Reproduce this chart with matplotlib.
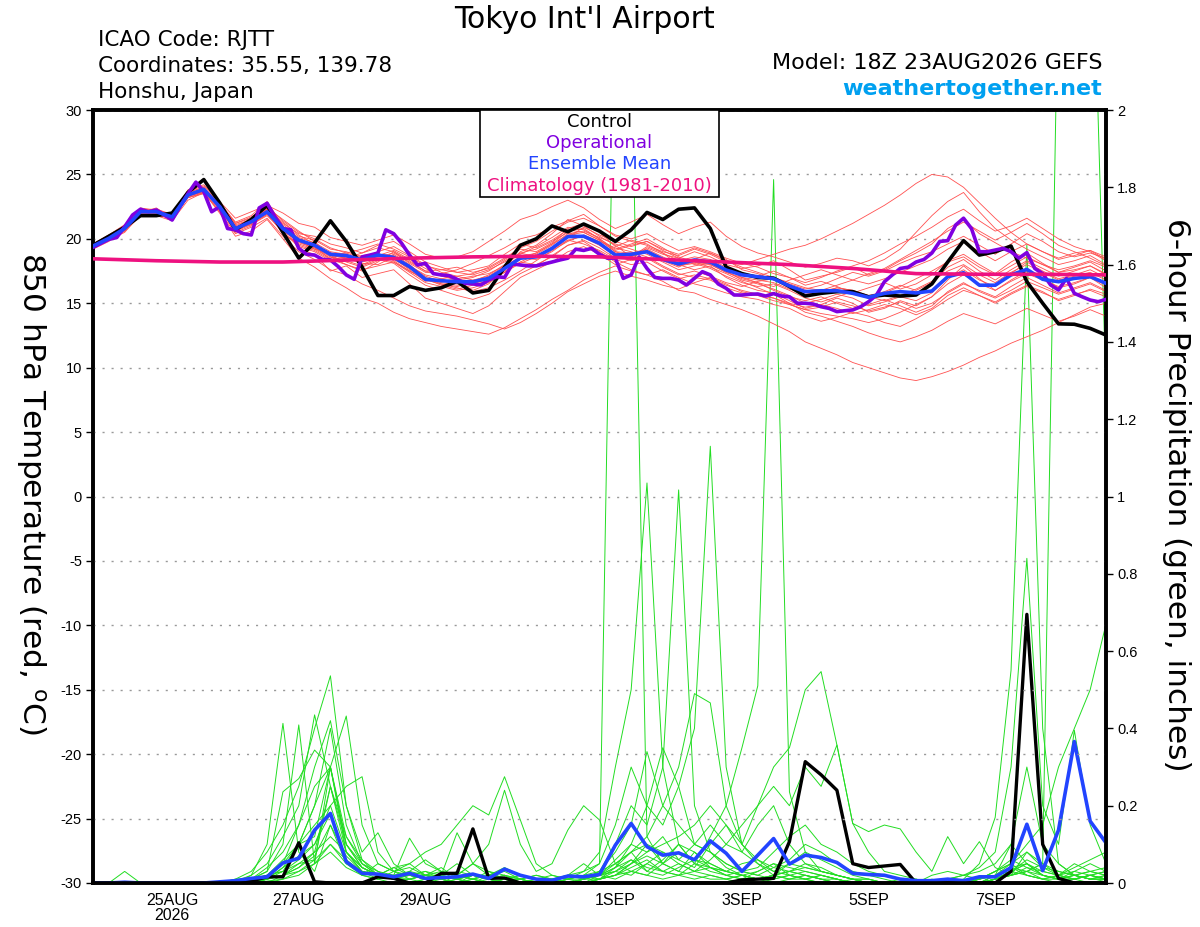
import matplotlib
matplotlib.use('Agg')
import matplotlib.pyplot as plt
from matplotlib.patches import Rectangle
import numpy as np
from datetime import datetime

plt.rcParams['font.family'] = ['Liberation Sans', 'DejaVu Sans']
plt.rcParams['axes.unicode_minus'] = False

# run start, 6-hourly steps (operational is 3-hourly)
start = datetime(2026, 8, 23, 18)
tick_dates = [datetime(2026, 8, 25), datetime(2026, 8, 27), datetime(2026, 8, 29),
              datetime(2026, 9, 1), datetime(2026, 9, 3), datetime(2026, 9, 5),
              datetime(2026, 9, 7)]
tick_labels = ['25AUG\n2026', '27AUG', '29AUG', '1SEP', '3SEP', '5SEP', '7SEP']

temp_ticks = list(range(-30, 31, 5))
precip_ticks = [0, 0.2, 0.4, 0.6, 0.8, 1.0, 1.2, 1.4, 1.6, 1.8, 2.0]
precip_labels = ['0', '0.2', '0.4', '0.6', '0.8', '1', '1.2', '1.4', '1.6', '1.8', '2']

# 850 hPa temperature, control (6h)
control_t = [19.5, 20.2, 20.9, 21.8, 21.8, 22.0, 23.6, 24.6, 22.8, 20.7,
             21.5, 22.6, 20.5, 18.5, 19.7, 21.4, 19.8, 17.8, 15.6, 15.6,
             16.3, 16.0, 16.2, 16.7, 15.8, 16.0, 17.8, 19.5, 20.0, 21.0,
             20.55, 21.15, 20.6, 19.8, 20.7, 22.05, 21.5, 22.3, 22.4, 20.8,
             17.8, 17.3, 17.0, 16.95, 16.3, 15.56, 15.77, 15.9, 15.9, 15.5,
             15.64, 15.56, 15.64, 16.5, 18.2, 19.86, 18.74, 19.0, 19.44, 16.67,
             15.0, 13.4, 13.37, 13.05, 12.53]

# ensemble mean (6h)
mean_t = [19.44, 20.04, 20.8, 22.1, 22.1, 21.7, 23.4, 23.84, 22.5, 20.8,
          21.33, 22.1, 20.8, 19.9, 19.5, 18.8, 18.7, 18.36, 18.74, 18.56,
          17.84, 16.86, 16.75, 16.67, 16.67, 16.93, 17.7, 18.5, 18.6, 19.26,
          20.17, 20.2, 19.65, 18.74, 18.8, 19.0, 18.4, 18.05, 18.36, 18.2,
          17.58, 17.2, 17.06, 16.9, 16.34, 15.9, 15.97, 15.97, 15.77, 15.46,
          15.77, 15.9, 15.8, 15.95, 17.06, 17.37, 16.4, 16.4, 17.2, 17.63,
          16.86, 16.67, 16.93, 17.06, 16.55]

# operational (3h)
oper_t = [19.34, 19.65, 19.96, 20.1, 20.94, 21.85, 22.3, 22.1, 22.24, 21.85,
          21.46, 22.5, 23.5, 24.4, 23.66, 22.1, 22.5, 20.8, 20.7, 20.4,
          20.3, 22.4, 22.76, 21.7, 20.8, 20.7, 19.26, 18.8, 18.74, 18.4,
          18.36, 17.84, 17.2, 16.86, 18.6, 18.74, 18.9, 20.7, 20.4, 19.65,
          18.74, 17.97, 18.1, 17.3, 17.2, 17.14, 16.86, 16.55, 16.5, 16.42,
          16.8, 17.06, 17.0, 18.05, 17.97, 17.9, 17.9, 18.05, 18.2, 18.36,
          18.5, 19.2, 19.1, 19.26, 18.8, 18.5, 18.5, 16.93, 17.2, 18.6,
          17.7, 17.0, 16.93, 16.93, 16.8, 16.42, 16.93, 17.45, 17.2, 16.5,
          16.16, 15.64, 15.64, 15.7, 15.72, 15.56, 15.75, 15.56, 15.5, 15.0,
          15.0, 14.94, 14.73, 14.6, 14.35, 14.42, 14.48, 14.73, 15.12, 15.64,
          16.67, 17.2, 17.7, 17.8, 18.2, 18.4, 18.9, 19.8, 19.86, 21.07,
          21.6, 20.8, 19.0, 19.0, 19.13, 19.26, 19.0, 18.5, 18.93, 17.7,
          17.3, 16.42, 16.03, 16.93, 15.77, 15.5, 15.25, 15.12, 15.3]

# climatology (daily)
clim_t = [18.45, 18.3, 18.2, 18.2, 18.35, 18.5, 18.6, 18.65, 18.6,
          18.4, 18.2, 18.0, 17.7, 17.3, 17.25, 17.25, 17.2]

# ensemble members, 850 hPa temperature (6h)
member_t = [
    [19.6, 20.3, 21.0, 22.3, 22.0, 21.9, 23.6, 24.0, 22.3, 20.5, 21.0, 22.4, 21.5, 20.6, 19.8, 18.6, 18.0, 17.5, 18.2, 19.0,
     18.3, 17.5, 17.2, 16.8, 16.0, 16.5, 17.8, 19.0, 19.5, 20.4, 21.5, 21.0, 20.2, 19.5, 18.6, 19.4, 18.9, 18.0, 17.6, 17.9,
     17.0, 16.4, 16.0, 15.8, 15.2, 14.6, 14.9, 15.4, 15.0, 14.3, 14.6, 15.2, 14.8, 15.5, 16.8, 17.9, 16.9, 16.0, 16.8, 17.5,
     17.0, 16.2, 16.5, 17.0, 16.2],
    [19.2, 19.8, 20.6, 21.8, 22.3, 21.5, 23.2, 23.5, 22.8, 21.3, 21.8, 22.9, 21.0, 19.2, 18.8, 17.5, 17.9, 17.0, 17.3, 17.6,
     16.5, 15.4, 15.0, 14.6, 14.2, 14.8, 15.9, 17.0, 17.6, 18.2, 19.0, 19.4, 18.8, 18.0, 18.4, 19.3, 18.8, 18.5, 19.0, 18.6,
     18.0, 17.7, 17.9, 18.3, 17.6, 16.8, 17.1, 17.4, 17.8, 17.2, 17.6, 18.3, 18.9, 19.6, 20.8, 21.5, 20.4, 19.7, 19.0, 18.5,
     18.0, 17.6, 17.9, 18.3, 17.8],
    [19.3, 19.9, 20.5, 21.9, 21.8, 21.4, 23.0, 23.6, 22.0, 20.2, 20.6, 21.5, 20.0, 18.5, 17.8, 16.9, 16.2, 15.4, 15.0, 14.3,
     13.8, 13.5, 13.2, 13.0, 12.8, 12.6, 13.1, 13.8, 14.5, 15.3, 16.0, 16.8, 17.4, 17.9, 17.5, 17.2, 17.6, 17.0, 16.5, 16.2,
     15.8, 15.5, 15.3, 14.9, 14.6, 14.0, 13.6, 13.9, 14.3, 14.0, 13.5, 13.2, 13.8, 14.5, 15.3, 16.0, 15.6, 15.1, 15.8, 16.4,
     15.9, 15.2, 15.6, 16.1, 15.7],
    [19.5, 20.2, 21.0, 22.4, 22.2, 21.8, 23.8, 24.2, 22.9, 21.6, 22.1, 22.6, 22.0, 21.2, 20.9, 20.1, 19.8, 19.5, 19.9, 20.3,
     19.6, 18.8, 18.5, 18.6, 19.0, 19.8, 20.6, 21.5, 21.9, 22.5, 23.0, 22.4, 21.5, 20.8, 21.3, 21.9, 21.1, 20.4, 20.9, 21.3,
     20.2, 19.4, 18.9, 18.6, 18.2, 17.8, 18.1, 18.5, 18.3, 17.9, 18.4, 19.2, 20.5, 21.8, 22.9, 23.6, 22.1, 20.8, 19.9, 19.2,
     18.6, 18.0, 18.3, 18.7, 18.0],
    [19.4, 20.1, 20.9, 22.0, 22.0, 21.6, 23.3, 23.7, 22.6, 21.0, 21.5, 22.0, 20.4, 19.6, 19.2, 18.9, 18.5, 18.9, 19.3, 19.0,
     18.1, 17.4, 17.3, 17.6, 18.1, 18.7, 19.3, 20.0, 20.3, 20.9, 21.4, 21.9, 21.0, 20.2, 19.8, 19.5, 19.0, 18.7, 19.2, 18.8,
     18.2, 18.0, 18.4, 18.8, 19.2, 19.5, 20.0, 20.6, 21.2, 21.9, 22.6, 23.4, 24.3, 25.0, 24.8, 24.0, 22.8, 21.6, 20.5, 19.6,
     19.0, 18.5, 18.9, 19.1, 18.4],
    [19.5, 20.0, 20.7, 22.2, 22.1, 21.7, 23.5, 23.9, 22.4, 20.6, 21.1, 21.8, 20.6, 19.8, 19.4, 18.4, 18.6, 18.0, 18.5, 18.2,
     17.4, 16.6, 16.3, 16.0, 16.2, 16.6, 17.4, 18.2, 18.0, 18.6, 19.5, 19.8, 19.0, 18.2, 17.6, 17.2, 16.7, 16.0, 15.8, 15.3,
     14.9, 14.5, 14.0, 13.4, 12.8, 12.0, 11.5, 11.0, 10.4, 10.0, 9.6, 9.2, 9.0, 9.3, 9.7, 10.2, 10.8, 11.3, 11.9, 12.4,
     12.9, 13.5, 14.1, 14.7, 15.0],
    [19.3, 20.0, 20.8, 22.0, 22.4, 21.6, 23.4, 23.6, 22.2, 20.9, 21.2, 22.3, 20.9, 20.1, 19.7, 19.0, 18.8, 18.3, 18.8, 18.5,
     17.6, 16.7, 16.9, 17.1, 16.8, 17.1, 17.9, 18.6, 18.9, 19.6, 20.6, 20.8, 20.0, 19.2, 19.6, 20.0, 19.3, 18.6, 18.2, 17.8,
     17.3, 16.7, 16.2, 15.7, 15.0, 14.3, 14.0, 13.6, 13.2, 12.7, 12.3, 12.0, 12.4, 12.9, 13.6, 14.2, 13.8, 13.4, 14.0, 14.6,
     14.1, 13.6, 14.0, 14.5, 14.0],
    [19.6, 20.1, 20.9, 22.1, 22.0, 21.8, 23.5, 23.9, 22.7, 21.2, 21.6, 22.2, 21.2, 20.4, 20.2, 19.6, 19.3, 18.9, 19.5, 19.8,
     19.0, 18.2, 17.8, 17.4, 17.6, 17.9, 18.8, 19.6, 19.3, 19.9, 20.7, 20.5, 19.9, 19.0, 18.6, 19.1, 18.3, 17.8, 18.4, 18.9,
     18.4, 17.6, 17.3, 16.8, 16.5, 16.1, 16.4, 16.9, 17.4, 17.1, 17.5, 18.1, 18.6, 19.0, 19.6, 20.2, 19.5, 18.8, 19.6, 20.4,
     19.8, 19.0, 18.6, 18.9, 18.5],
    [19.4, 20.0, 20.7, 22.1, 22.2, 21.7, 23.4, 23.8, 22.5, 20.7, 21.4, 22.0, 20.5, 19.4, 19.0, 18.3, 18.5, 18.7, 18.9, 18.3,
     17.5, 16.8, 16.5, 16.3, 16.6, 16.9, 17.5, 18.2, 18.8, 19.5, 20.4, 20.6, 20.1, 19.6, 19.2, 18.8, 18.2, 17.6, 17.9, 18.1,
     17.5, 16.8, 16.5, 16.1, 15.6, 15.0, 15.3, 15.7, 15.4, 14.8, 15.1, 15.5, 15.2, 15.8, 17.0, 17.6, 16.8, 16.3, 17.3, 18.2,
     17.5, 16.9, 17.2, 17.6, 17.0],
    [19.5, 20.1, 20.8, 22.0, 22.1, 21.8, 23.3, 23.7, 22.4, 20.8, 21.3, 22.1, 20.7, 19.7, 19.3, 18.7, 18.2, 17.8, 18.3, 18.8,
     18.0, 17.0, 16.5, 16.2, 15.9, 16.2, 16.8, 17.5, 18.3, 19.1, 19.8, 20.3, 19.8, 19.3, 19.0, 18.6, 17.9, 17.3, 17.0, 16.8,
     16.2, 15.8, 15.6, 15.4, 14.9, 14.5, 14.2, 14.0, 13.8, 13.5, 13.8, 14.3, 14.9, 15.5, 16.5, 17.2, 16.5, 16.0, 16.7, 17.3,
     16.8, 16.3, 16.6, 17.0, 16.4],
    [19.4, 19.9, 20.6, 21.8, 22.0, 21.6, 23.2, 23.6, 22.1, 20.4, 20.9, 21.6, 20.2, 19.0, 18.4, 17.6, 17.2, 16.5, 16.0, 15.4,
     14.8, 14.4, 14.2, 14.0, 13.7, 13.4, 13.0, 13.5, 14.2, 15.0, 15.9, 16.5, 17.1, 17.5, 17.1, 16.8, 16.4, 16.1, 16.6, 17.0,
     16.5, 15.9, 15.6, 15.2, 14.9, 14.5, 14.7, 15.1, 14.8, 14.4, 14.7, 15.1, 14.6, 15.0, 15.8, 16.5, 16.0, 15.5, 16.3, 17.0,
     16.4, 15.8, 16.2, 16.6, 16.0],
    [19.5, 20.2, 20.9, 22.3, 22.3, 21.9, 23.6, 24.0, 22.6, 20.9, 21.4, 22.3, 21.3, 20.3, 19.6, 18.8, 18.9, 19.2, 19.6, 19.2,
     18.6, 17.9, 17.6, 17.8, 17.4, 17.7, 18.4, 19.2, 19.0, 19.7, 20.8, 21.2, 20.5, 19.4, 19.9, 19.6, 18.9, 18.3, 18.6, 18.4,
     17.8, 17.3, 17.1, 17.5, 17.0, 16.4, 16.7, 16.3, 15.8, 16.2, 16.6, 16.1, 16.5, 17.2, 18.3, 18.8, 18.0, 17.3, 18.2, 18.9,
     18.1, 17.4, 17.8, 18.2, 17.5],
    [19.3, 20.0, 20.8, 22.0, 21.9, 21.5, 23.3, 23.7, 22.4, 20.6, 21.2, 21.9, 20.8, 20.0, 19.5, 18.9, 18.6, 18.1, 18.0, 18.6,
     17.9, 17.2, 16.9, 16.5, 16.7, 17.2, 18.0, 18.9, 19.2, 19.8, 20.5, 20.1, 19.5, 18.7, 18.3, 18.5, 17.8, 17.2, 17.5, 17.1,
     16.6, 16.3, 16.7, 16.9, 16.2, 15.6, 15.8, 16.2, 16.0, 15.6, 15.9, 16.4, 16.0, 16.6, 17.8, 18.4, 17.5, 16.8, 17.6, 18.3,
     17.7, 17.1, 17.5, 17.9, 17.2],
    [19.6, 20.3, 21.1, 22.2, 22.1, 21.7, 23.5, 23.9, 22.7, 21.1, 21.5, 22.4, 21.1, 20.2, 19.9, 19.2, 19.0, 18.6, 18.7, 19.1,
     18.4, 17.7, 17.1, 16.8, 17.0, 17.5, 18.3, 18.9, 18.6, 19.3, 20.1, 20.9, 20.3, 19.8, 19.4, 19.8, 19.1, 18.5, 18.0, 18.3,
     17.7, 17.0, 16.6, 16.3, 16.8, 17.2, 17.6, 17.2, 16.8, 17.3, 17.7, 18.4, 19.1, 19.8, 20.6, 21.3, 20.6, 19.9, 20.5, 21.2,
     20.4, 19.5, 19.0, 18.5, 17.9],
    [19.4, 20.1, 20.8, 22.1, 22.0, 21.8, 23.4, 23.8, 22.5, 20.8, 21.3, 22.1, 20.9, 19.9, 19.3, 18.6, 18.3, 17.9, 18.4, 18.1,
     17.2, 16.4, 16.0, 15.6, 15.3, 15.7, 16.5, 17.3, 17.9, 18.7, 19.5, 19.9, 19.3, 18.5, 18.9, 19.2, 18.6, 18.0, 18.3, 18.0,
     17.4, 16.9, 16.6, 16.0, 15.5, 15.2, 15.5, 15.0, 14.6, 14.9, 15.3, 14.8, 14.3, 14.8, 15.9, 16.6, 15.9, 15.4, 16.0, 16.7,
     16.2, 15.7, 16.1, 16.5, 15.9],
    [19.5, 20.0, 20.7, 22.0, 22.2, 21.6, 23.4, 23.8, 22.3, 20.7, 21.2, 22.0, 20.6, 19.8, 19.2, 18.5, 18.8, 18.4, 18.6, 18.9,
     18.2, 17.5, 17.6, 17.4, 17.2, 17.6, 18.2, 18.8, 19.4, 20.1, 20.9, 20.7, 20.0, 19.1, 19.5, 19.8, 19.2, 18.8, 19.3, 18.9,
     18.3, 17.8, 17.4, 17.0, 16.6, 16.2, 16.0, 16.4, 16.8, 16.5, 16.9, 17.4, 17.9, 18.4, 19.2, 19.8, 19.0, 18.3, 19.0, 19.6,
     19.0, 18.4, 18.7, 19.1, 18.6],
    [19.4, 20.0, 20.8, 22.2, 22.1, 21.7, 23.5, 23.8, 22.6, 20.9, 21.4, 22.2, 20.9, 19.9, 19.5, 18.9, 18.7, 18.4, 18.8, 18.7,
     17.9, 17.1, 16.7, 16.9, 17.1, 17.3, 17.9, 18.5, 18.4, 19.0, 19.9, 20.2, 19.6, 18.9, 18.7, 19.0, 18.4, 17.9, 18.1, 17.7,
     17.1, 16.6, 16.3, 16.5, 16.0, 15.4, 15.1, 15.5, 15.9, 15.5, 15.2, 15.6, 16.1, 16.7, 17.5, 18.0, 17.2, 16.6, 17.4, 18.0,
     17.4, 16.8, 17.1, 17.4, 16.8],
    [19.3, 19.9, 20.7, 21.9, 22.0, 21.6, 23.2, 23.6, 22.4, 20.8, 21.1, 21.9, 20.5, 19.5, 19.1, 18.4, 18.0, 17.6, 17.9, 18.2,
     17.5, 16.9, 16.4, 16.1, 16.4, 16.8, 17.4, 18.1, 18.6, 19.2, 19.9, 19.6, 19.1, 18.4, 18.0, 18.2, 17.5, 16.9, 17.2, 16.9,
     16.4, 16.0, 15.7, 15.4, 15.0, 14.7, 14.9, 14.6, 14.2, 14.5, 14.9, 14.6, 14.1, 14.6, 15.6, 16.2, 15.6, 15.0, 15.7, 16.3,
     15.8, 15.3, 15.7, 16.0, 15.5],
    [19.6, 20.2, 21.0, 22.3, 22.2, 21.9, 23.7, 24.1, 22.8, 21.2, 21.7, 22.5, 21.4, 20.5, 20.0, 19.3, 18.9, 18.5, 19.0, 19.4,
     18.7, 18.0, 17.4, 17.1, 17.3, 17.8, 18.5, 19.3, 19.8, 20.6, 21.3, 21.6, 21.0, 20.3, 20.0, 20.4, 19.7, 19.1, 19.4, 19.0,
     18.5, 18.1, 17.8, 17.3, 17.0, 16.6, 17.0, 17.5, 17.9, 18.3, 18.9, 19.6, 20.2, 20.9, 21.7, 22.3, 21.4, 20.6, 21.0, 21.6,
     20.8, 20.0, 19.4, 19.0, 18.3],
    [19.4, 20.0, 20.9, 22.0, 22.1, 21.7, 23.4, 23.8, 22.5, 20.8, 21.3, 22.1, 20.8, 19.8, 19.4, 18.7, 18.5, 18.2, 18.5, 18.4,
     17.7, 16.9, 16.6, 16.4, 16.5, 16.9, 17.7, 18.4, 18.9, 19.6, 20.3, 20.5, 19.9, 19.0, 18.9, 19.1, 18.5, 17.9, 18.2, 18.0,
     17.4, 17.0, 16.8, 16.6, 16.1, 15.7, 15.9, 16.2, 16.0, 15.5, 15.8, 16.3, 16.9, 17.5, 18.2, 18.6, 17.8, 17.2, 17.9, 18.6,
     18.0, 17.4, 17.6, 17.9, 17.3],
]

# 6-hour precipitation (inches)
control_p = [0, 0, 0, 0, 0, 0, 0, 0, 0, 0,
             0.005, 0.016, 0.016, 0.104, 0.003, 0, 0, 0, 0.016, 0.012,
             0, 0, 0.025, 0.025, 0.14, 0.012, 0.013, 0, 0, 0,
             0, 0, 0, 0, 0, 0, 0, 0, 0, 0,
             0, 0.008, 0.01, 0.012, 0.107, 0.314, 0.28, 0.24, 0.05, 0.04,
             0.044, 0.048, 0, 0, 0, 0, 0, 0, 0.03, 0.695,
             0.10, 0.012, 0, 0, 0]

mean_p = [0, 0, 0.002, 0, 0, 0, 0, 0, 0.003, 0.006,
          0.012, 0.016, 0.052, 0.064, 0.137, 0.18, 0.055, 0.025, 0.023, 0.016,
          0.025, 0.012, 0.014, 0.016, 0.023, 0.012, 0.036, 0.02, 0.01, 0.007,
          0.018, 0.016, 0.022, 0.098, 0.154, 0.094, 0.072, 0.078, 0.06, 0.109,
          0.077, 0.03, 0.072, 0.115, 0.049, 0.072, 0.066, 0.053, 0.025, 0.022,
          0.02, 0.01, 0.006, 0.006, 0.01, 0.006, 0.016, 0.016, 0.04, 0.152,
          0.032, 0.137, 0.366, 0.16, 0.104]

member_p = [
    [0, 0, 0, 0, 0, 0, 0, 0, 0, 0.01, 0.03, 0.08, 0.15, 0.25, 0.40, 0.536, 0.20, 0.06, 0.02, 0.01,
     0.02, 0.01, 0, 0.02, 0.05, 0.03, 0.01, 0, 0, 0, 0.01, 0.02, 0.05, 2.4, 2.2, 0.12, 0.05, 0.03, 0.08, 0.04,
     0.02, 0.01, 0.03, 0.05, 0.02, 0.01, 0, 0, 0.01, 0, 0, 0, 0, 0, 0, 0, 0.01, 0.03, 0.05, 0.02,
     0.01, 0, 0.01, 0.02, 0.01],
    [0, 0, 0, 0, 0, 0, 0, 0, 0, 0, 0.02, 0.10, 0.413, 0.08, 0.03, 0.15, 0.05, 0.02, 0.01, 0.03,
     0.05, 0.02, 0.01, 0, 0.01, 0.02, 0.01, 0, 0, 0, 0, 0.01, 0.02, 0.05, 0.08, 0.03, 0.06, 0.10, 0.05, 0.12,
     0.2, 0.35, 0.51, 1.82, 0.236, 0.08, 0.03, 0.02, 0.01, 0, 0, 0, 0, 0.01, 0, 0, 0, 0.02, 0.04, 0.05,
     0.02, 0.01, 0.02, 0.03, 0.02],
    [0, 0, 0.03, 0, 0, 0, 0, 0, 0, 0, 0.01, 0.03, 0.1, 0.409, 0.05, 0.3, 0.1, 0.04, 0.02, 0.01,
     0, 0.01, 0.02, 0.05, 0.02, 0.01, 0, 0, 0.01, 0, 0.02, 0.03, 0.08, 0.3, 0.5, 1.035, 0.3, 0.1, 0.05, 0.04,
     0.03, 0.02, 0.01, 0.02, 0.01, 0.02, 0.01, 0, 0, 0, 0, 0, 0, 0, 0, 0, 0, 0.01, 0.02, 0.08,
     0.05, 0.02, 0.01, 0, 0.01],
    [0, 0, 0, 0, 0, 0, 0, 0, 0, 0.005, 0.02, 0.05, 0.12, 0.2, 0.435, 0.25, 0.08, 0.03, 0.02, 0.01,
     0.03, 0.06, 0.03, 0.02, 0.01, 0, 0, 0.01, 0.02, 0.01, 0, 0.01, 0.03, 0.1, 0.2, 0.15, 0.3, 1.017, 0.2, 0.08,
     0.05, 0.03, 0.02, 0.01, 0.02, 0.03, 0.02, 0.01, 0, 0, 0, 0, 0, 0, 0, 0, 0, 0.01, 0.03, 0.05,
     0.02, 0.01, 0.03, 0.02, 0.01],
    [0, 0, 0, 0, 0, 0, 0, 0, 0, 0, 0, 0.01, 0.04, 0.1, 0.2, 0.3, 0.432, 0.15, 0.05, 0.03,
     0.01, 0.02, 0.04, 0.01, 0, 0.02, 0.04, 0.02, 0.01, 0, 0.01, 0.02, 0.01, 0.04, 0.1, 0.2, 0.15, 0.25, 0.4, 1.13,
     0.3, 0.1, 0.05, 0.02, 0.01, 0.01, 0.02, 0.01, 0, 0, 0, 0, 0.01, 0, 0, 0, 0, 0.02, 0.04, 0.03,
     0.01, 0.02, 0.01, 0.02, 0.03],
    [0, 0, 0, 0, 0, 0, 0, 0, 0, 0.01, 0.01, 0.02, 0.03, 0.06, 0.1, 0.2, 0.25, 0.275, 0.08, 0.03,
     0.02, 0.01, 0.01, 0.02, 0.01, 0, 0.01, 0.02, 0.01, 0, 0, 0, 0.01, 0.02, 0.05, 0.08, 0.1, 0.12, 0.15, 0.2,
     0.15, 0.1, 0.2, 0.3, 0.35, 0.50, 0.547, 0.357, 0.154, 0.08, 0.03, 0.02, 0.01, 0, 0.01, 0.02, 0.03, 0.05, 0.1, 0.3,
     0.1, 0.05, 0.02, 0.01, 0.01],
    [0, 0, 0, 0, 0, 0, 0, 0, 0, 0, 0.01, 0.02, 0.05, 0.15, 0.3, 0.42, 0.2, 0.08, 0.13, 0.05,
     0.02, 0.03, 0.01, 0, 0.02, 0.01, 0, 0, 0, 0.01, 0.02, 0.05, 0.02, 0.01, 0.03, 0.02, 0.01, 0.02, 0.03, 0.02,
     0.01, 0.02, 0.01, 0.02, 0.05, 0.08, 0.06, 0.04, 0.02, 0.01, 0, 0, 0, 0, 0, 0.01, 0.05, 0.17, 0.55, 1.65,
     0.4, 0.05, 0.02, 0.01, 0.01],
    [0, 0, 0, 0, 0, 0, 0, 0, 0, 0, 0, 0.01, 0.03, 0.1, 0.2, 0.40, 0.15, 0.05, 0.02, 0.01,
     0.01, 0, 0.02, 0.13, 0.05, 0.02, 0.01, 0, 0, 0, 0, 0.01, 0.02, 0.03, 0.02, 0.05, 0.03, 0.02, 0.01, 0.02,
     0.01, 0, 0.01, 0.02, 0.03, 0.05, 0.04, 0.02, 0.01, 0, 0, 0, 0, 0, 0.01, 0.02, 0.04, 0.08, 0.3, 0.84,
     0.2, 0.1, 0.395, 0.15, 0.05],
    [0, 0, 0, 0, 0, 0, 0, 0, 0, 0, 0, 0, 0.01, 0.02, 0.05, 0.1, 0.06, 0.03, 0.01, 0,
     0.01, 0.02, 0.01, 0, 0, 0.01, 0.02, 0.01, 0, 0, 0, 0, 0.01, 0.02, 0.04, 0.06, 0.03, 0.02, 0.05, 0.03,
     0.02, 0.01, 0, 0.01, 0.02, 0.01, 0, 0, 0, 0, 0, 0, 0, 0, 0, 0, 0, 0.01, 0.02, 0.03,
     0.05, 2.4, 2.6, 2.7, 1.27],
    [0, 0, 0, 0, 0, 0, 0, 0, 0, 0, 0.01, 0.02, 0.05, 0.1, 0.12, 0.3, 0.08, 0.03, 0.02, 0.04,
     0.05, 0.08, 0.1, 0.15, 0.2, 0.176, 0.275, 0.163, 0.05, 0.02, 0.01, 0.02, 0.03, 0.05, 0.08, 0.1, 0.05, 0.03, 0.02, 0.01,
     0.01, 0.02, 0.01, 0, 0.01, 0.02, 0.01, 0, 0, 0, 0, 0, 0, 0, 0, 0, 0.01, 0.02, 0.05, 0.1,
     0.15, 0.3, 0.4, 0.5, 0.67],
    [0, 0, 0, 0, 0, 0, 0, 0, 0, 0, 0, 0.01, 0.02, 0.04, 0.08, 0.25, 0.1, 0.05, 0.03, 0.02,
     0.116, 0.05, 0.03, 0.02, 0.05, 0.1, 0.24, 0.1, 0.03, 0.05, 0.137, 0.2, 0.163, 0.05, 0.03, 0.02, 0.05, 0.1, 0.08, 0.05,
     0.03, 0.02, 0.01, 0.02, 0.03, 0.02, 0.01, 0, 0, 0, 0, 0, 0, 0, 0, 0, 0, 0.01, 0.03, 0.05,
     0.03, 0.02, 0.01, 0.02, 0.03],
    [0, 0, 0, 0, 0, 0, 0, 0, 0, 0, 0.01, 0.03, 0.236, 0.27, 0.344, 0.3, 0.1, 0.04, 0.02, 0.01,
     0.02, 0.01, 0, 0.01, 0.02, 0.01, 0, 0, 0, 0.01, 0.02, 0.01, 0.03, 0.08, 0.15, 0.34, 0.2, 0.3, 0.49, 0.466,
     0.2, 0.1, 0.06, 0.03, 0.02, 0.01, 0.02, 0.01, 0, 0, 0, 0.01, 0, 0, 0, 0, 0.01, 0.02, 0.03, 0.02,
     0.01, 0.02, 0.05, 0.03, 0.02],
    [0, 0, 0, 0, 0, 0, 0, 0, 0, 0, 0, 0, 0.02, 0.05, 0.06, 0.25, 0.12, 0.05, 0.02, 0.01,
     0, 0.01, 0.02, 0.01, 0, 0, 0.01, 0.02, 0.01, 0, 0, 0, 0.01, 0.02, 0.05, 0.1, 0.08, 0.05, 0.03, 0.06,
     0.1, 0.15, 0.2, 0.25, 0.2, 0.3, 0.25, 0.357, 0.154, 0.133, 0.15, 0.14, 0.08, 0.03, 0.12, 0.05, 0.107, 0.04, 0.02, 0.03,
     0.02, 0.01, 0.02, 0.01, 0.02],
    [0, 0, 0, 0, 0, 0, 0, 0, 0, 0, 0.005, 0.02, 0.06, 0.1, 0.15, 0.2, 0.08, 0.04, 0.02, 0.01,
     0.01, 0.02, 0.03, 0.02, 0.01, 0.02, 0.03, 0.01, 0, 0, 0.01, 0.03, 0.05, 0.15, 0.3, 0.2, 0.35, 0.25, 0.1, 0.15,
     0.1, 0.08, 0.15, 0.2, 0.1, 0.05, 0.03, 0.02, 0.01, 0.01, 0, 0, 0, 0, 0, 0, 0, 0.01, 0.02, 0.04,
     0.02, 0.01, 0.01, 0.02, 0.01],
    [0, 0, 0, 0, 0, 0, 0, 0, 0, 0, 0, 0.005, 0.01, 0.03, 0.06, 0.1, 0.05, 0.03, 0.02, 0.04,
     0.02, 0.01, 0, 0.01, 0.02, 0.01, 0, 0.01, 0.02, 0.01, 0, 0.01, 0.02, 0.04, 0.08, 0.12, 0.2, 0.15, 0.1, 0.08,
     0.05, 0.03, 0.04, 0.08, 0.12, 0.15, 0.1, 0.08, 0.05, 0.03, 0.02, 0.01, 0, 0.02, 0.03, 0.02, 0.01, 0.03, 0.05, 0.08,
     0.04, 0.03, 0.02, 0.01, 0.02],
    [0, 0, 0, 0, 0, 0, 0, 0, 0, 0, 0.01, 0.04, 0.08, 0.15, 0.25, 0.3, 0.12, 0.06, 0.03, 0.01,
     0, 0, 0.01, 0.02, 0.01, 0, 0, 0, 0.01, 0.02, 0.01, 0, 0.01, 0.02, 0.03, 0.05, 0.08, 0.06, 0.04, 0.1,
     0.15, 0.08, 0.05, 0.03, 0.05, 0.04, 0.03, 0.02, 0.01, 0, 0, 0, 0, 0, 0, 0, 0, 0.01, 0.02, 0.03,
     0.05, 0.03, 0.02, 0.03, 0.04],
    [0, 0, 0, 0, 0, 0, 0, 0, 0, 0, 0, 0.01, 0.02, 0.03, 0.05, 0.08, 0.04, 0.02, 0.05, 0.03,
     0.04, 0.02, 0.01, 0.03, 0.02, 0.01, 0.02, 0, 0, 0, 0, 0.01, 0.01, 0.03, 0.06, 0.04, 0.03, 0.05, 0.03, 0.04,
     0.02, 0.03, 0.02, 0.04, 0.06, 0.1, 0.08, 0.05, 0.03, 0.02, 0.01, 0, 0, 0, 0, 0, 0.01, 0.02, 0.1, 0.05,
     0.02, 0.01, 0.01, 0.02, 0.01],
    [0, 0, 0, 0, 0, 0, 0, 0, 0, 0, 0.005, 0.01, 0.04, 0.07, 0.1, 0.18, 0.06, 0.02, 0.01, 0.02,
     0.03, 0.02, 0.01, 0, 0.01, 0.03, 0.02, 0.01, 0, 0, 0.01, 0.01, 0.02, 0.06, 0.1, 0.08, 0.12, 0.06, 0.1, 0.08,
     0.04, 0.02, 0.03, 0.05, 0.04, 0.03, 0.02, 0.01, 0, 0, 0, 0, 0, 0, 0, 0, 0, 0.01, 0.03, 0.06,
     0.04, 0.02, 0.03, 0.05, 0.03],
    [0, 0, 0, 0, 0, 0, 0, 0, 0, 0, 0, 0.02, 0.03, 0.05, 0.08, 0.12, 0.08, 0.04, 0.02, 0.01,
     0.01, 0.02, 0.02, 0.01, 0, 0, 0.01, 0.01, 0, 0, 0, 0.01, 0.02, 0.04, 0.06, 0.03, 0.02, 0.04, 0.06, 0.05,
     0.03, 0.02, 0.01, 0.02, 0.03, 0.02, 0.01, 0.01, 0, 0, 0, 0, 0, 0, 0, 0, 0, 0.02, 0.04, 0.02,
     0.01, 0.01, 0.02, 0.01, 0.01],
    [0, 0, 0, 0, 0, 0, 0, 0, 0, 0, 0, 0.01, 0.02, 0.04, 0.07, 0.15, 0.07, 0.03, 0.02, 0.02,
     0.02, 0.03, 0.02, 0.01, 0.02, 0.02, 0.01, 0.01, 0, 0, 0, 0, 0.02, 0.03, 0.05, 0.07, 0.05, 0.08, 0.06, 0.04,
     0.03, 0.05, 0.06, 0.04, 0.03, 0.04, 0.03, 0.02, 0.01, 0.01, 0, 0, 0, 0, 0, 0, 0.01, 0.03, 0.06, 0.04,
     0.03, 0.02, 0.04, 0.06, 0.08],
]

RED = '#ff5050'
GREEN = '#22dd22'
BLACK = 'black'
PURPLE = '#8000e0'
BLUE = '#2244ff'
MAGENTA = '#ee1180'
WIDE = ['DejaVu Sans']   # the header text in the original is wider than Arial


def hours(n, step):
    return np.arange(n) * step


tick_hours = [(d - start).total_seconds() / 3600 for d in tick_dates]

fig = plt.figure(figsize=(12, 9.27), dpi=100)
fig.patch.set_facecolor('white')
ax1 = fig.add_axes([93 / 1200, 1 - 883 / 927, 1013 / 1200, 773 / 927])
ax2 = ax1.twinx()
ax1.set_zorder(ax2.get_zorder() + 1)
ax1.patch.set_visible(False)

# precipitation on the right axis
for p in member_p:
    ax2.plot(hours(len(p), 6), p, color=GREEN, lw=0.7, zorder=1)
ax2.plot(hours(len(control_p), 6), control_p, color=BLACK, lw=2.4, zorder=3)
ax2.plot(hours(len(mean_p), 6), mean_p, color=BLUE, lw=2.6, zorder=4)

# temperature on the left axis
for t in member_t:
    ax1.plot(hours(len(t), 6), t, color=RED, lw=0.6, zorder=2)
ax1.plot(hours(len(control_t), 6), control_t, color=BLACK, lw=2.6, zorder=4)
ax1.plot(hours(len(oper_t), 3), oper_t, color=PURPLE, lw=2.6, zorder=5)
ax1.plot(hours(len(mean_t), 6), mean_t, color=BLUE, lw=2.6, zorder=6)
ax1.plot(hours(len(clim_t), 24), clim_t, color=MAGENTA, lw=2.6, zorder=7)

ax1.set_xlim(0, 384)
ax1.set_ylim(-30, 30)
ax2.set_ylim(0, 2)

ax1.set_yticks(temp_ticks)
ax1.set_yticklabels([str(v) for v in temp_ticks])
ax2.set_yticks(precip_ticks)
ax2.set_yticklabels(precip_labels)
ax1.set_xticks(tick_hours)
ax1.set_xticklabels(tick_labels, fontsize=11.5, linespacing=1.05)

ax1.yaxis.grid(True, linestyle=(0, (1.5, 5)), color='#999999', lw=1.0, zorder=0)
ax1.tick_params(axis='y', direction='out', length=5, width=1, labelsize=10.5, pad=3)
ax1.tick_params(axis='x', length=0, pad=7)
ax2.tick_params(axis='y', direction='out', length=5, width=1, labelsize=10.5, pad=3)

for ax in (ax1, ax2):
    for s in ax.spines.values():
        s.set_linewidth(2.6)

# legend box
ax1.add_patch(Rectangle((0.382, 0.8874), 0.236, 0.1126, transform=ax1.transAxes,
                        facecolor='white', edgecolor='black', lw=1.2,
                        zorder=10, clip_on=False))
legend_items = [('Control', BLACK), ('Operational', PURPLE),
                ('Ensemble Mean', BLUE), ('Climatology (1981-2010)', MAGENTA)]
for k, (txt, col) in enumerate(legend_items):
    ax1.text(0.5, 0.9845 - k * 0.0275, txt, color=col, fontsize=13, family=WIDE,
             ha='center', va='center', transform=ax1.transAxes, zorder=11)

# axis titles, both read top to bottom
fig.text(31 / 1200, 1 - 493 / 927, r'850 hPa Temperature (red, $^{\mathrm{o}}$C)',
         rotation=270, ha='center', va='center', fontsize=22.5, family=WIDE)
fig.text(1176 / 1200, 1 - 495 / 927, '6-hour Precipitation (green, inches)',
         rotation=270, ha='center', va='center', fontsize=22.5, family=WIDE)

# header texts
fig.text(585 / 1200, 1 - 19 / 927, "Tokyo Int'l Airport", ha='center', va='center',
         fontsize=21.5, family=WIDE)
fig.text(98 / 1200, 1 - 40 / 927, 'ICAO Code: RJTT', ha='left', va='center',
         fontsize=15.5, family=WIDE)
fig.text(98 / 1200, 1 - 66 / 927, 'Coordinates: 35.55, 139.78', ha='left', va='center',
         fontsize=15.5, family=WIDE)
fig.text(98 / 1200, 1 - 92 / 927, 'Honshu, Japan', ha='left', va='center',
         fontsize=15.5, family=WIDE)
fig.text(1102 / 1200, 1 - 63 / 927, 'Model: 18Z 23AUG2026 GEFS', ha='right', va='center',
         fontsize=16, family=WIDE)
fig.text(1102 / 1200, 1 - 89 / 927, 'weathertogether.net', ha='right', va='center',
         fontsize=16, fontweight='bold', color='#00a0f0', family=WIDE)

fig.savefig('out.png', dpi=100)
